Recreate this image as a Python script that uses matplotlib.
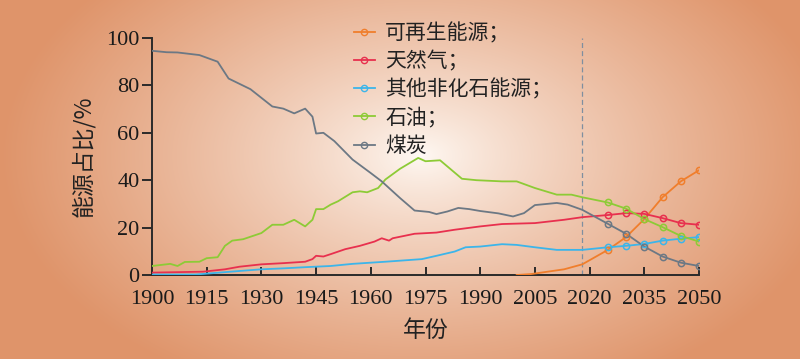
import numpy as np
import matplotlib.pyplot as plt
from matplotlib.lines import Line2D

cjk = ['Noto Sans CJK SC', 'DejaVu Sans']
num_font = 'Liberation Serif'

# historical shares (%)
coal_years = [1900, 1904, 1907, 1913, 1918, 1921, 1927, 1933, 1936, 1939, 1942, 1944, 1945, 1947,
              1950, 1955, 1960, 1963, 1968, 1972, 1976, 1978, 1981, 1984, 1987, 1990, 1995, 1999,
              2002, 2005, 2011, 2014, 2018]
coal_hist = [94.6, 94.0, 93.9, 92.8, 90.0, 82.9, 78.4, 71.1, 70.2, 68.2, 70.2, 66.8, 59.7, 60.0,
             56.5, 48.7, 43.0, 39.5, 32.5, 27.2, 26.6, 25.7, 26.8, 28.3, 27.8, 27.0, 26.0, 24.7,
             26.1, 29.5, 30.4, 29.7, 27.5]

oil_years = [1900, 1905, 1907, 1909, 1913, 1915, 1918, 1920, 1922, 1925, 1930, 1933, 1936, 1939,
             1942, 1944, 1945, 1947, 1949, 1951, 1955, 1957, 1959, 1962, 1964, 1968, 1973, 1975,
             1979, 1982, 1985, 1989, 1996, 2000, 2005, 2011, 2015, 2018]
oil_hist = [3.8, 4.7, 3.8, 5.5, 5.6, 7.1, 7.5, 12.3, 14.5, 15.1, 17.7, 21.2, 21.2, 23.3,
            20.5, 23.3, 27.8, 27.8, 29.7, 31.1, 34.9, 35.3, 34.9, 36.7, 40.3, 44.8, 49.4, 48.0,
            48.4, 44.5, 40.6, 40.0, 39.5, 39.5, 36.7, 33.9, 33.9, 32.8]

gas_years = [1900, 1914, 1920, 1924, 1930, 1936, 1942, 1944, 1945, 1947, 1949, 1953, 1957, 1961,
             1963, 1965, 1966, 1972, 1978, 1983, 1990, 1996, 2005, 2013, 2018]
gas_hist = [1.0, 1.4, 2.4, 3.5, 4.5, 5.0, 5.6, 6.7, 8.1, 7.8, 8.8, 10.9, 12.3, 14.1,
            15.5, 14.5, 15.5, 17.4, 17.9, 19.1, 20.5, 21.5, 21.9, 23.3, 24.4]

other_years = [1900, 1912, 1916, 1924, 1930, 1936, 1942, 1949, 1955, 1964, 1974, 1978, 1983, 1986,
               1990, 1996, 2000, 2005, 2011, 2018]
other_hist = [0.2, 0.2, 0.7, 1.7, 2.4, 2.8, 3.3, 3.8, 4.7, 5.6, 6.7, 8.1, 9.9, 11.7,
              12.0, 13.0, 12.7, 11.7, 10.6, 10.6]

renew_years = [2000, 2004, 2013, 2018]
renew_hist = [0.0, 0.4, 2.4, 4.5]

# projections
proj_years = [2025, 2030, 2035, 2040, 2045, 2050]
renew_proj = [10.6, 16.0, 23.6, 32.8, 39.5, 44.2]
gas_proj = [25.3, 26.1, 25.8, 24.0, 21.9, 21.2]
other_proj = [11.7, 12.3, 13.1, 14.5, 15.3, 16.0]
oil_proj = [30.6, 28.0, 23.6, 20.2, 16.5, 14.1]
coal_proj = [21.6, 17.4, 12.0, 7.8, 5.2, 3.8]

labels = ['可再生能源；', '天然气；', '其他非化石能源；', '石油；', '煤炭']
colors = ['#F07E2C', '#E8304E', '#3CB5EA', '#8DCB36', '#6C7884']
series = [(renew_years, renew_hist, renew_proj),
          (gas_years, gas_hist, gas_proj),
          (other_years, other_hist, other_proj),
          (oil_years, oil_hist, oil_proj),
          (coal_years, coal_hist, coal_proj)]
split_year = 2018

fig = plt.figure(figsize=(8, 3.59), dpi=100)

# radial background gradient
h, w = 359, 800
yy, xx = np.mgrid[0:h, 0:w]
d = np.sqrt(((xx - 420) / 420.0) ** 2 + ((yy - 155) / 260.0) ** 2)
t = np.clip(d, 0, 1) ** 0.8
base = np.array([223, 148, 106]) / 255.0
white = np.array([1.0, 0.98, 0.96])
img = white * (1 - t[..., None]) + base * t[..., None]
bg = fig.add_axes([0, 0, 1, 1], zorder=-10)
bg.imshow(img, aspect='auto')
bg.axis('off')

ax = fig.add_axes([152 / 800, 1 - 275 / 359, (699 - 152) / 800, (275 - 38) / 359])
ax.set_facecolor('none')

for (yrs, hist, proj), c in zip(series, colors):
    xs = list(yrs) + proj_years
    ys = list(hist) + proj
    ax.plot(xs, ys, color=c, lw=1.3, zorder=3)
    ax.plot(proj_years, proj, ls='none', marker='o', ms=4.5, mfc='none', mec=c, mew=1.1, zorder=4)

ax.axvline(split_year, ymin=0, ymax=1.0, color='#7F8FA0', lw=0.9, ls=(0, (4, 2.5)), zorder=2)

ax.set_xlim(1900, 2050)
ax.set_ylim(0, 100)
ax.set_xticks(range(1900, 2051, 15))
ax.set_yticks(range(0, 101, 20))
for s in ['top', 'right']:
    ax.spines[s].set_visible(False)
for s in ['left', 'bottom']:
    ax.spines[s].set_color('#2a2a2a')
    ax.spines[s].set_linewidth(1.4)
ax.tick_params(axis='x', direction='in', length=6, width=1.4, pad=11, color='#2a2a2a')
ax.tick_params(axis='y', direction='out', length=7, width=1.4, pad=2, color='#2a2a2a')
for lab in ax.get_xticklabels() + ax.get_yticklabels():
    lab.set_fontfamily(num_font)
    lab.set_fontsize(16)
    lab.set_color('#1a1a1a')

ax.set_xlabel('年份', family=cjk, fontsize=16.5, color='#222222', labelpad=7)
ax.set_ylabel('能源占比/%', family=cjk, fontsize=16.5, color='#222222', labelpad=8)

handles = [Line2D([], [], color=c, lw=1.3, marker='o', ms=4.5, mfc='none', mec=c) for c in colors]
leg = ax.legend(handles, labels, loc='upper left', bbox_to_anchor=(354 / 800, 1 - 22 / 359),
                bbox_transform=fig.transFigure, frameon=False, handlelength=1.0, handletextpad=0.5,
                labelspacing=0.3, prop={'family': cjk, 'size': 15}, borderpad=0, borderaxespad=0)
for txt in leg.get_texts():
    txt.set_color('#222222')

fig.savefig('out.png', dpi=100)
